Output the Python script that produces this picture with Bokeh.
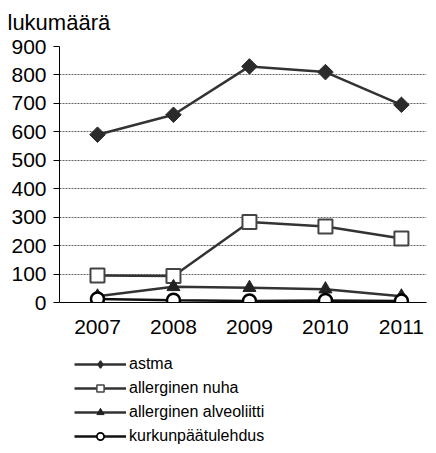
import math
from bokeh.plotting import figure
from bokeh.models import Range1d, FixedTicker, Legend, LegendItem
from bokeh.layouts import column
from bokeh.embed import file_html
from bokeh.resources import INLINE

years = [2007, 2008, 2009, 2010, 2011]
astma = [590, 660, 830, 810, 695]
nuha = [95, 93, 283, 267, 225]
alveoliitti = [22, 55, 52, 47, 22]
kurkunpaa = [12, 8, 5, 7, 5]
y_ticks = [0, 100, 200, 300, 400, 500, 600, 700, 800, 900]
title_text = "lukumäärä"
names = ["astma", "allerginen nuha", "allerginen alveoliitti", "kurkunpäätulehdus"]

FONT = "Liberation Sans"
LINE = "#333333"

styles = [
    (dict(line_color=LINE, line_width=2.5),
     dict(marker="square", angle=math.pi / 4, size=11, fill_color="#2b2b2b", line_color="#2b2b2b")),
    (dict(line_color=LINE, line_width=2.5),
     dict(marker="square", size=14, fill_color="white", line_color="#444444", line_width=2)),
    (dict(line_color=LINE, line_width=2.5),
     dict(marker="triangle", size=13, fill_color="#222222", line_color="#222222")),
    (dict(line_color="#111111", line_width=2.5),
     dict(marker="circle", size=13, fill_color="white", line_color="#000000", line_width=2.5)),
]
legend_markers = [
    dict(marker="diamond", fill_color="#2b2b2b", line_color="#2b2b2b", line_width=1.5),
    dict(marker="square", fill_color="white", line_color="#444444", line_width=1.5),
    dict(marker="triangle", fill_color="#222222", line_color="#222222"),
    dict(marker="circle", fill_color="white", line_color="#000000", line_width=1.7),
]
series = [astma, nuha, alveoliitti, kurkunpaa]

p = figure(width=428, height=345, output_backend="svg", toolbar_location=None,
           x_range=Range1d(2006.5, 2011.33), y_range=Range1d(0, 900),
           min_border_left=59, min_border_right=2, min_border_top=46, min_border_bottom=43)
p.outline_line_color = None

p.title.text = title_text
p.title.align = "left"
p.title.offset = -52
p.title.standoff = 19
p.title.vertical_align = "top"
p.title.text_font = FONT
p.title.text_font_size = "22px"
p.title.text_font_style = "normal"
p.title.text_color = "#000000"

p.xaxis.ticker = FixedTicker(ticks=years)
p.yaxis.ticker = FixedTicker(ticks=y_ticks)
for ax in (p.xaxis[0], p.yaxis[0]):
    ax.axis_line_color = "#000000"
    ax.axis_line_width = 1
    ax.minor_tick_line_color = None
    ax.major_label_text_font = FONT
    ax.major_label_text_font_size = "21px"
    ax.major_label_text_color = "#000000"
p.xaxis.major_tick_line_color = None
p.xaxis.major_label_standoff = 11
p.yaxis.major_tick_out = 6
p.yaxis.major_tick_in = 0
p.yaxis.major_tick_line_color = "#000000"
p.yaxis.major_label_standoff = 7

p.xgrid.grid_line_color = None
p.ygrid.grid_line_color = "#666666"
p.ygrid.grid_line_dash = "2 1"
p.ygrid.grid_line_width = 1

for vals, (lk, mk) in zip(series, styles):
    p.line(years, vals, **lk)
    p.scatter(years, vals, **mk)

# legend figure: same series drawn outside its visible ranges, only the legend shows
q = figure(width=428, height=100, output_backend="svg", toolbar_location=None,
           x_range=Range1d(0, 1), y_range=Range1d(-2, -1),
           x_axis_location=None, y_axis_location=None,
           min_border_left=59, min_border_right=2, min_border_top=0, min_border_bottom=0)
q.outline_line_color = None
q.grid.grid_line_color = None

items = []
for name, vals, (lk, _), lm in zip(names, series, styles, legend_markers):
    rl = q.line(years, vals, **lk)
    rm = q.scatter(years, vals, **lm)
    items.append(LegendItem(label=name, renderers=[rl, rm]))

legend = Legend(items=items, location=(15, 0), orientation="vertical",
                glyph_width=52, glyph_height=18, label_height=18, spacing=6,
                padding=0, margin=0, label_standoff=3,
                label_text_font=FONT, label_text_font_size="16px",
                label_text_color="#000000", border_line_color=None, background_fill_alpha=0)
q.add_layout(legend, "center")

open("out.html", "w").write(file_html(column(p, q, spacing=0), INLINE))
